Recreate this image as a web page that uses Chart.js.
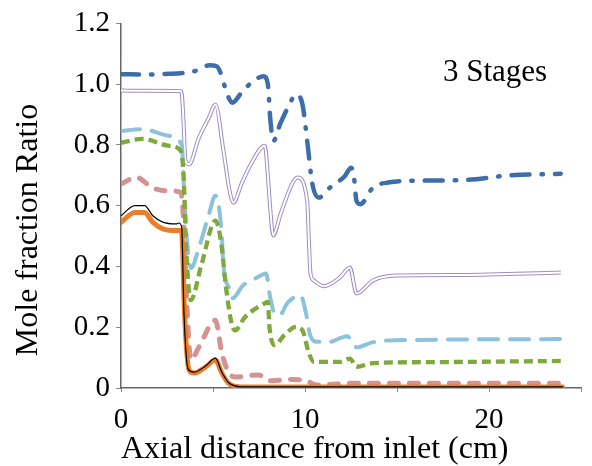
<!DOCTYPE html>
<html>
<head>
<meta charset="utf-8">
<script src="https://cdn.jsdelivr.net/npm/chart.js@4.4.1/dist/chart.umd.min.js"></script>
<style>
  html, body { margin: 0; padding: 0; background: #ffffff; }
  #wrap { width: 592px; height: 466px; position: relative; }
</style>
</head>
<body>
<div id="wrap"><canvas id="c"></canvas></div>
<script>
// ---- Data (x in cm, y = mole fraction ratio) ----
const xTickLabels = [0, 10, 20];
const yTickLabels = ['0', '0.2', '0.4', '0.6', '0.8', '1.0', '1.2'];
const annotationText = '3 Stages';
const xAxisTitle = 'Axial distance from inlet (cm)';
const yAxisTitle = 'Mole fraction Ratio';

const blueX = [0, 1.5, 2.6, 3.25, 4.0, 4.8, 5.2, 5.48, 5.66, 6.05, 6.55, 7.18, 7.75, 7.98, 8.12, 8.28, 8.65, 9.16, 9.5, 9.86, 10.12, 10.4, 10.75, 11.37, 12.17, 12.5, 12.65, 12.8, 13.0, 13.7, 14.6, 15.85, 18.5, 21.2, 23.9];
const blueY = [1.033, 1.032, 1.034, 1.036, 1.043, 1.062, 1.059, 1.026, 0.988, 0.939, 0.972, 1.01, 1.026, 1.0, 0.88, 0.813, 0.869, 0.934, 0.966, 0.934, 0.813, 0.672, 0.627, 0.66, 0.698, 0.725, 0.70, 0.616, 0.605, 0.66, 0.677, 0.682, 0.684, 0.70, 0.705];

const purpleX = [0, 1.5, 3.28, 3.38, 3.5, 3.7, 4.23, 4.77, 5.13, 5.57, 5.93, 6.11, 6.55, 7.07, 7.82, 7.98, 8.1, 8.27, 8.68, 9.3, 9.59, 10.12, 10.21, 10.3, 10.48, 11.02, 11.9, 12.44, 12.8, 13.7, 14.94, 18.5, 23.9];
const purpleY = [0.979, 0.978, 0.977, 0.90, 0.75, 0.736, 0.823, 0.889, 0.933, 0.78, 0.64, 0.61, 0.672, 0.738, 0.797, 0.70, 0.60, 0.502, 0.574, 0.672, 0.693, 0.616, 0.485, 0.377, 0.354, 0.335, 0.364, 0.397, 0.311, 0.354, 0.37, 0.372, 0.38];

const cyanX = [0, 1.18, 2.62, 3.3, 3.45, 3.62, 3.8, 4.23, 4.77, 5.13, 5.46, 5.57, 5.93, 6.05, 6.64, 7.28, 7.89, 8.07, 8.34, 8.61, 9.05, 9.76, 10.02, 10.28, 10.66, 11.37, 11.9, 12.3, 12.8, 13.7, 14.94, 23.9];
const cyanY = [0.846, 0.852, 0.83, 0.80, 0.62, 0.46, 0.395, 0.46, 0.57, 0.633, 0.518, 0.40, 0.321, 0.295, 0.338, 0.36, 0.377, 0.311, 0.246, 0.239, 0.28, 0.305, 0.256, 0.174, 0.152, 0.152, 0.164, 0.17, 0.134, 0.151, 0.157, 0.161];

const greenX = [0, 1.18, 2.62, 3.25, 3.4, 3.55, 3.79, 4.39, 5.13, 5.48, 5.66, 6.02, 6.2, 6.73, 7.82, 7.98, 8.07, 8.34, 8.88, 9.5, 9.86, 10.21, 10.48, 11.9, 12.44, 12.8, 13.7, 16.7, 23.9];
const greenY = [0.807, 0.82, 0.797, 0.78, 0.70, 0.45, 0.289, 0.41, 0.551, 0.462, 0.354, 0.21, 0.19, 0.233, 0.279, 0.283, 0.2, 0.141, 0.174, 0.201, 0.19, 0.115, 0.086, 0.086, 0.097, 0.07, 0.082, 0.085, 0.089];

const pinkX = [0, 0.84, 1.71, 2.62, 3.25, 3.4, 3.6, 3.79, 4.23, 5.13, 5.48, 5.84, 6.2, 7.45, 8.16, 9.23, 9.95, 10.66, 12.8, 23.9];
const pinkY = [0.672, 0.693, 0.659, 0.649, 0.644, 0.55, 0.25, 0.092, 0.134, 0.223, 0.115, 0.053, 0.036, 0.043, 0.024, 0.028, 0.026, 0.01, 0.016, 0.016];

const orangeX = [0, 0.75, 1.28, 1.73, 2.27, 3.07, 3.25, 3.32, 3.45, 3.7, 3.96, 4.59, 5.13, 5.48, 5.84, 6.55, 24.0];
const orangeY = [0.545, 0.578, 0.578, 0.545, 0.524, 0.518, 0.518, 0.50, 0.25, 0.059, 0.049, 0.069, 0.092, 0.049, 0.016, 0.003, 0.003];

const blackX = [0, 0.75, 1.28, 1.73, 2.27, 3.0, 3.15, 3.3, 3.42, 3.65, 3.96, 4.59, 5.13, 5.48, 5.84, 6.55, 24.0];
const blackY = [0.567, 0.6, 0.6, 0.567, 0.546, 0.54, 0.543, 0.529, 0.25, 0.062, 0.052, 0.072, 0.098, 0.052, 0.018, 0.004, 0.004];

const pts = (xs, ys) => xs.map((x, i) => ({ x: x, y: ys[i] }));

function ds(label, xs, ys, color, width, dash, cap, order) {
  return {
    label: label,
    data: pts(xs, ys),
    borderColor: color,
    borderWidth: width,
    borderDash: dash,
    borderCapStyle: cap,
    borderJoinStyle: 'round',
    pointRadius: 0,
    fill: false,
    cubicInterpolationMode: 'monotone',
    order: order
  };
}

const serif = '"Liberation Serif", "DejaVu Serif", serif';

const textPlugin = {
  id: 'texts',
  afterDraw(chart) {
    const ctx = chart.ctx;
    const xs = chart.scales.x, ys = chart.scales.y;
    ctx.save();
    ctx.fillStyle = '#000';
    ctx.font = '31px ' + serif;
    ctx.textAlign = 'left';
    ctx.textBaseline = 'middle';
    ctx.fillText(annotationText, xs.getPixelForValue(17.5), ys.getPixelForValue(1.036));
    // y axis title
    ctx.translate(29, 230);
    ctx.rotate(-Math.PI / 2);
    ctx.textAlign = 'center';
    ctx.font = '32px ' + serif;
    ctx.fillText(yAxisTitle, 0, 0);
    ctx.restore();
  }
};

new Chart(document.getElementById('c'), {
  type: 'line',
  data: {
    datasets: [
      ds('Stage A', blueX, blueY, '#3e6eaa', 4.5, [18, 12, 1.5, 12], 'round', 7),
      ds('Stage B outer', purpleX, purpleY, '#9c8ec4', 4, [], 'butt', 6),
      ds('Stage B inner', purpleX, purpleY, '#ffffff', 2, [], 'butt', 5),
      ds('Stage C', cyanX, cyanY, '#8cc3da', 4, [19, 12], 'round', 4),
      ds('Stage D', pinkX, pinkY, '#d49292', 5, [9, 11], 'round', 3),
      ds('Stage E', greenX, greenY, '#7fa83d', 4.3, [9, 5], 'butt', 2),
      ds('Stage F', orangeX, orangeY, '#e97e2b', 5, [], 'round', 1),
      ds('Stage G', blackX, blackY, '#000000', 1.2, [], 'round', 0)
    ]
  },
  options: {
    responsive: true,
    maintainAspectRatio: false,
    animation: false,
    layout: { padding: { left: 0, right: 4, top: 21, bottom: 0 } },
    plugins: { legend: { display: false }, tooltip: { enabled: false } },
    scales: {
      x: {
        type: 'linear',
        min: 0, max: 25,
        afterFit(scale) { scale.height = 78; },
        border: { display: true, color: '#666666', width: 1.5 },
        grid: { drawOnChartArea: false, drawTicks: true, tickLength: 4, tickColor: '#888888' },
        ticks: {
          stepSize: 5, autoSkip: false, maxRotation: 0, padding: 11,
          color: '#000', font: { family: serif, size: 29 },
          callback: (v) => xTickLabels.includes(v) ? String(v) : ''
        },
        title: {
          display: true, text: xAxisTitle, align: 'start', color: '#000',
          font: { family: serif, size: 32, lineHeight: 1 },
          padding: { top: 0, bottom: 0 }
        }
      },
      y: {
        type: 'linear',
        min: 0, max: 1.2,
        afterFit(scale) { scale.width = 121; },
        border: { display: true, color: '#666666', width: 1.5 },
        grid: { drawOnChartArea: false, drawTicks: true, tickLength: 5, tickColor: '#888888' },
        ticks: {
          stepSize: 0.2, autoSkip: false, padding: 6,
          color: '#000', font: { family: serif, size: 29 },
          callback: (v) => yTickLabels[Math.round(v * 5)]
        }
      }
    }
  },
  plugins: [textPlugin]
});
</script>
</body>
</html>
